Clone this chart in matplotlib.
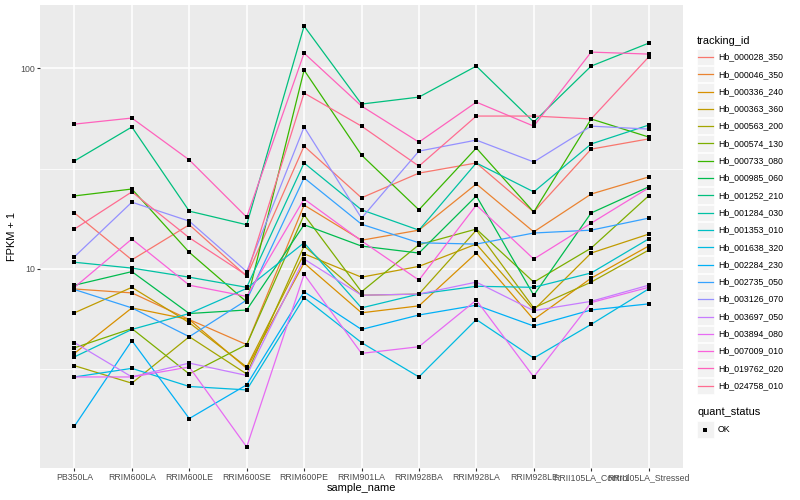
import matplotlib
matplotlib.use('Agg')
import matplotlib.pyplot as plt
from matplotlib.lines import Line2D
from matplotlib.patches import Rectangle
from matplotlib.ticker import NullFormatter, FixedLocator
import numpy as np

plt.rcParams['font.family'] = ['Liberation Sans', 'DejaVu Sans']

samples = ["PB350LA", "RRIM600LA", "RRIM600LE", "RRIM600SE", "RRIM600PE",
           "RRIM901LA", "RRIM928BA", "RRIM928LA", "RRIM928LE",
           "RRII105LA_Control", "RRII105LA_Stressed"]

tracking_ids = ["Hb_000028_350", "Hb_000046_350", "Hb_000336_240", "Hb_000363_360",
                "Hb_000563_200", "Hb_000574_130", "Hb_000733_080", "Hb_000985_060",
                "Hb_001252_210", "Hb_001284_030", "Hb_001353_010", "Hb_001638_320",
                "Hb_002284_230", "Hb_002735_050", "Hb_003126_070", "Hb_003697_050",
                "Hb_003894_080", "Hb_007009_010", "Hb_019762_020", "Hb_024758_010"]

colors = ["#F8766D", "#EA8331", "#D89000", "#C09B00", "#A3A500", "#7CAE00",
          "#39B600", "#00BB4E", "#00BF7D", "#00C1A3", "#00BFC4", "#00BAE0",
          "#00B0F6", "#35A2FF", "#9590FF", "#C77CFF", "#E76BF3", "#FA62DB",
          "#FF62BC", "#FF6C91"]

Hb_000028_350 = [19.0, 11.1, 16.6, 9.2, 40.9, 22.6, 30.0, 33.7, 19.2, 39.5, 44.4]
Hb_000046_350 = [7.95, 7.6, 5.6, 4.2, 20.8, 13.9, 15.6, 26.5, 15.3, 23.6, 28.7]
Hb_000336_240 = [3.8, 6.4, 5.6, 3.2, 10.7, 6.05, 6.55, 12.0, 5.6, 9.0, 13.0]
Hb_000363_360 = [6.05, 8.1, 5.4, 3.25, 11.9, 9.1, 10.3, 13.3, 6.25, 12.0, 14.9]
Hb_000563_200 = [3.3, 2.7, 4.6, 3.0, 13.0, 7.4, 7.5, 15.6, 6.4, 8.6, 12.4]
Hb_000574_130 = [4.05, 5.05, 3.0, 4.2, 18.6, 7.7, 13.2, 15.8, 8.6, 12.7, 23.1]
Hb_000733_080 = [23.1, 25.0, 12.1, 6.85, 97.7, 36.9, 19.7, 40.0, 19.2, 55.8, 45.4]
Hb_000985_060 = [8.3, 9.7, 6.0, 6.25, 16.6, 13.0, 12.0, 23.1, 7.4, 19.0, 25.6]
Hb_001252_210 = [34.5, 50.9, 19.4, 16.6, 161.9, 66.2, 71.7, 102.3, 53.9, 102.3, 133.0]
Hb_001284_030 = [10.8, 10.1, 9.1, 8.1, 33.7, 19.7, 15.6, 33.7, 24.2, 41.9, 52.0]
Hb_001353_010 = [3.65, 5.0, 6.0, 8.0, 13.5, 6.4, 7.5, 8.2, 8.1, 9.55, 14.1]
Hb_001638_320 = [2.9, 3.2, 2.6, 2.5, 7.2, 4.3, 2.9, 5.6, 3.6, 5.3, 7.95]
Hb_002284_230 = [1.65, 4.4, 1.8, 2.65, 7.7, 5.0, 5.9, 6.6, 5.2, 6.25, 6.7]
Hb_002735_050 = [7.9, 6.4, 4.6, 7.0, 28.4, 16.7, 13.5, 13.3, 15.1, 15.6, 17.9]
Hb_003126_070 = [11.5, 21.5, 17.3, 9.7, 50.9, 17.9, 38.6, 43.8, 34.1, 51.4, 49.7]
Hb_003697_050 = [4.3, 2.9, 3.4, 2.95, 11.2, 7.4, 7.5, 8.6, 6.2, 6.9, 8.3]
Hb_003894_080 = [2.9, 2.9, 3.25, 1.3, 9.4, 3.8, 4.1, 7.0, 2.9, 6.8, 8.1]
Hb_007009_010 = [8.1, 14.1, 8.3, 7.3, 22.3, 13.8, 8.8, 20.8, 11.2, 16.9, 25.3]
Hb_019762_020 = [52.6, 56.4, 34.9, 18.1, 118.7, 64.7, 42.8, 67.7, 51.4, 120.1, 117.4]
Hb_024758_010 = [15.8, 24.2, 14.3, 9.3, 75.1, 51.4, 32.5, 57.7, 57.7, 55.8, 113.4]

series = [Hb_000028_350, Hb_000046_350, Hb_000336_240, Hb_000363_360, Hb_000563_200,
          Hb_000574_130, Hb_000733_080, Hb_000985_060, Hb_001252_210, Hb_001284_030,
          Hb_001353_010, Hb_001638_320, Hb_002284_230, Hb_002735_050, Hb_003126_070,
          Hb_003697_050, Hb_003894_080, Hb_007009_010, Hb_019762_020, Hb_024758_010]

W, H = 800, 500
fig = plt.figure(figsize=(8, 5), dpi=100)
fig.patch.set_facecolor('white')
ax = fig.add_axes([40 / W, 1 - 468 / H, (683 - 40) / W, (468 - 5) / H])
ax.set_facecolor('#EBEBEB')

x = np.arange(len(samples))
for vals, col in zip(series, colors):
    ax.plot(x, vals, color=col, lw=0.9, zorder=2, solid_capstyle='butt')
for vals in series:
    ax.plot(x, vals, ls='none', marker='s', ms=3.1, color='black', mew=0, zorder=3)

ax.set_yscale('log')
allv = np.concatenate([np.asarray(s, float) for s in series])
lo, hi = np.log10(allv.min()), np.log10(allv.max())
pad = 0.05 * (hi - lo)
ax.set_ylim(10 ** (lo - pad), 10 ** (hi + pad))
ax.set_xlim(-0.6, len(samples) - 1 + 0.6)

ax.yaxis.set_major_locator(FixedLocator([10, 100]))
ax.set_yticklabels(['10', '100'])
ax.yaxis.set_minor_locator(FixedLocator([10 ** 0.5, 10 ** 1.5]))
ax.yaxis.set_minor_formatter(NullFormatter())
ax.set_xticks(x)
ax.set_xticklabels(samples)

ax.grid(which='major', color='white', lw=1.1, zorder=0)
ax.grid(which='minor', axis='y', color='white', lw=0.55, zorder=0)
ax.set_axisbelow(True)
for s in ax.spines.values():
    s.set_visible(False)
ax.tick_params(axis='both', which='major', length=2.0, width=0.8, color='#333333',
               labelsize=6.3, labelcolor='#4D4D4D', pad=1.6)
ax.tick_params(axis='y', which='minor', length=0)

ax.set_xlabel('sample_name', fontsize=7.9, color='black', labelpad=1)
ax.set_ylabel('FPKM + 1', fontsize=7.9, color='black', labelpad=2)

# legend (manual, ggplot-like)
def fx(px):
    return px / W

def fy(py):
    return 1 - py / H

fig.text(fx(697), fy(40.5), 'tracking_id', fontsize=7.9, ha='left', va='center')
key_w = 17.3
y0 = 57.0
for i, (tid, col) in enumerate(zip(tracking_ids, colors)):
    yc = y0 + i * key_w
    fig.patches.append(Rectangle((fx(696.5), fy(yc + key_w / 2 - 0.5)), key_w / W, (key_w - 1) / H,
                                 transform=fig.transFigure, facecolor='#F2F2F2',
                                 edgecolor='white', lw=0.5))
    fig.lines.append(Line2D([fx(698), fx(712.5)], [fy(yc), fy(yc)], transform=fig.transFigure,
                            color=col, lw=0.9))
    fig.text(fx(718), fy(yc), tid, fontsize=6.3, ha='left', va='center')

fig.text(fx(697), fy(412), 'quant_status', fontsize=7.9, ha='left', va='center')
yc = 429.5
fig.patches.append(Rectangle((fx(696.5), fy(yc + key_w / 2 - 0.5)), key_w / W, (key_w - 1) / H,
                             transform=fig.transFigure, facecolor='#F2F2F2',
                             edgecolor='white', lw=0.5))
fig.lines.append(Line2D([fx(705)], [fy(yc)], transform=fig.transFigure, ls='none',
                        marker='s', ms=3.1, mew=0, color='black'))
fig.text(fx(718), fy(yc), 'OK', fontsize=6.3, ha='left', va='center')

fig.savefig('out.png', dpi=100)
